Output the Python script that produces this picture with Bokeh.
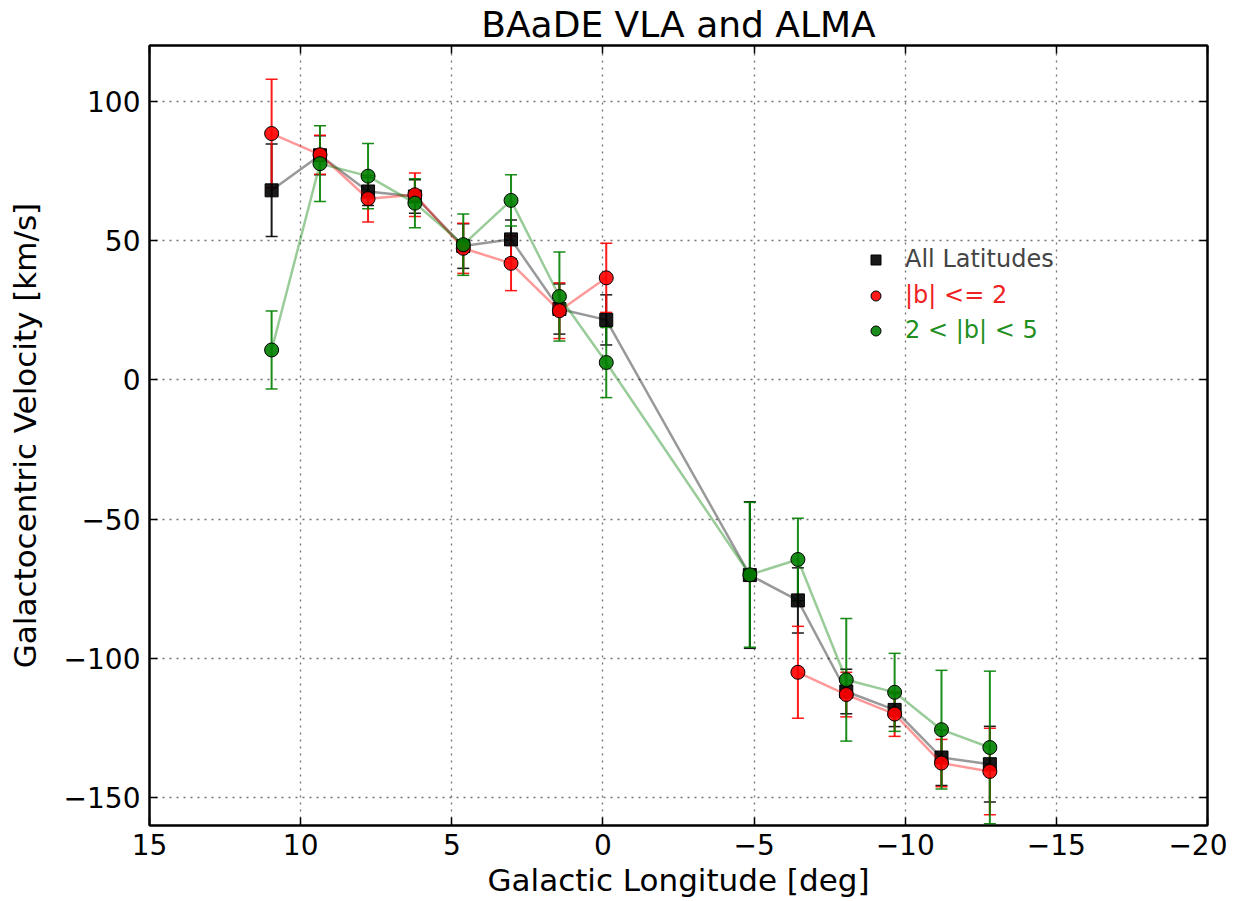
import numpy as np
from bokeh.plotting import figure
from bokeh.models import (Range1d, FixedTicker, LinearAxis, Whisker, TeeHead,
                          ColumnDataSource, Legend, LegendItem)
from bokeh.embed import file_html
from bokeh.resources import INLINE

nan = np.nan

# Galactic longitude bin centres [deg]
longitude = [10.96, 9.36, 7.77, 6.22, 4.62, 3.04, 1.44, -0.11,
             -4.86, -6.45, -8.05, -9.65, -11.2, -12.8]

# All latitudes
v_all = [68.0, 80.6, 67.6, 65.8, 48.0, 50.4, 25.4, 21.5,
         -70.1, -79.2, -111.9, -118.5, -135.6, -138.0]
e_all = [16.6, 7.0, 5.0, 6.0, 8.0, 7.0, 9.0, 9.0,
         26.3, 11.7, 8.0, 6.0, 10.0, 13.6]

# |b| <= 2
v_low = [88.4, 80.8, 65.0, 66.4, 47.2, 41.8, 24.8, 36.6,
         nan, -105.0, -113.0, -120.0, -137.6, -140.6]
e_low = [19.5, 7.0, 8.4, 7.8, 9.0, 9.8, 10.0, 12.4,
         nan, 16.5, 8.0, 8.0, 8.5, 15.5]

# 2 < |b| < 5
v_high = [10.7, 77.6, 73.1, 63.4, 48.5, 64.4, 29.9, 6.2,
          -70.0, -64.5, -107.7, -112.2, -125.6, -132.0]
e_high = [14.0, 13.6, 11.7, 8.8, 11.0, 9.2, 16.0, 12.6,
          26.0, 14.8, 22.0, 14.0, 21.3, 27.4]

series_names = ["All Latitudes", "|b| <= 2", "2 < |b| < 5"]
series_colors = ["black", "#ff0000", "#008000"]
label_colors = ["#444444", "#ee2222", "#1f8f1f"]
series_markers = ["square", "circle", "circle"]

x_ticks = [15, 10, 5, 0, -5, -10, -15, -20]
y_ticks = [-150, -100, -50, 0, 50, 100]

FONT = "DejaVu Sans"


def fmt(v):
    return ("\u2212" + str(abs(v))) if v < 0 else str(v)


p = figure(frame_width=1058, frame_height=780,
           x_range=Range1d(15, -20), y_range=Range1d(-160, 120),
           output_backend="svg", toolbar_location=None,
           min_border_left=149, min_border_right=20,
           min_border_top=0, min_border_bottom=0,
           title="BAaDE VLA and ALMA")
p.title.align = "center"
p.title.text_font = FONT
p.title.text_font_size = "36px"
p.title.text_font_style = "normal"
p.title.text_color = "black"
p.title.standoff = 2

p.outline_line_color = "black"
p.outline_line_width = 2
p.background_fill_color = "white"

for ax in (p.xaxis[0], p.yaxis[0]):
    ax.major_label_text_font = FONT
    ax.major_label_text_font_size = "28px"
    ax.major_label_text_color = "black"
    ax.axis_label_text_font = FONT
    ax.axis_label_text_font_size = "31px"
    ax.axis_label_text_font_style = "normal"
    ax.axis_label_text_color = "black"
    ax.major_tick_in = 8
    ax.major_tick_out = 0
    ax.minor_tick_in = 0
    ax.minor_tick_out = 0
    ax.axis_line_width = 2
    ax.major_tick_line_width = 1.5

p.xaxis[0].ticker = FixedTicker(ticks=x_ticks)
p.yaxis[0].ticker = FixedTicker(ticks=y_ticks)
p.xaxis[0].major_label_overrides = {t: fmt(t) for t in x_ticks}
p.yaxis[0].major_label_overrides = {t: fmt(t) for t in y_ticks}
p.xaxis[0].axis_label = "Galactic Longitude [deg]"
p.yaxis[0].axis_label = "Galactocentric Velocity [km/s]"
p.xaxis[0].major_label_standoff = 8
p.xaxis[0].axis_label_standoff = 4
p.yaxis[0].major_label_standoff = 9
p.yaxis[0].axis_label_standoff = 18

for loc, tk in (("above", x_ticks), ("right", y_ticks)):
    ax = LinearAxis(ticker=FixedTicker(ticks=tk))
    ax.major_label_overrides = {t: "" for t in tk}
    ax.major_label_standoff = 0
    ax.major_tick_in = 8
    ax.major_tick_out = 0
    ax.minor_tick_in = 0
    ax.minor_tick_out = 0
    ax.axis_line_width = 2
    ax.major_tick_line_width = 1.5
    p.add_layout(ax, loc)

p.xgrid.ticker = FixedTicker(ticks=x_ticks)
p.ygrid.ticker = FixedTicker(ticks=y_ticks)
for g in (p.xgrid[0], p.ygrid[0]):
    g.grid_line_color = "#444444"
    g.grid_line_alpha = 0.75
    g.grid_line_dash = "2 5"
    g.grid_line_width = 1.3

values = [v_all, v_low, v_high]
errors = [e_all, e_low, e_high]
marker_sizes = [13, 14, 14]
scatter_renderers = []
for name, vals, errs, col, mk, ms in zip(series_names, values, errors,
                                         series_colors, series_markers, marker_sizes):
    v = np.array(vals, dtype=float)
    e = np.array(errs, dtype=float)
    src = ColumnDataSource(dict(x=longitude, y=v, lo=v - e, hi=v + e))
    p.line("x", "y", source=src, line_color=col, line_alpha=0.4, line_width=2.5)
    w = Whisker(source=src, base="x", upper="hi", lower="lo", dimension="height",
                line_color=col, line_width=2, line_alpha=0.9,
                upper_head=TeeHead(size=12, line_color=col, line_width=1.5, line_alpha=0.9),
                lower_head=TeeHead(size=12, line_color=col, line_width=1.5, line_alpha=0.9))
    p.add_layout(w)
    r = p.scatter("x", "y", source=src, marker=mk, size=ms, fill_color=col,
                  fill_alpha=0.9, line_color="black", line_width=1)
    scatter_renderers.append(r)

legend_bottoms = [552, 516, 481]
for name, r, lc, yb in zip(series_names, scatter_renderers, label_colors, legend_bottoms):
    lg = Legend(items=[LegendItem(label=name, renderers=[r])], location=(714, yb),
                background_fill_alpha=0, border_line_color=None,
                padding=0, margin=0, glyph_width=25, glyph_height=25,
                label_standoff=17, label_text_font=FONT,
                label_text_font_size="24px", label_text_color=lc)
    p.add_layout(lg)

open("out.html", "w").write(file_html(p, INLINE))
